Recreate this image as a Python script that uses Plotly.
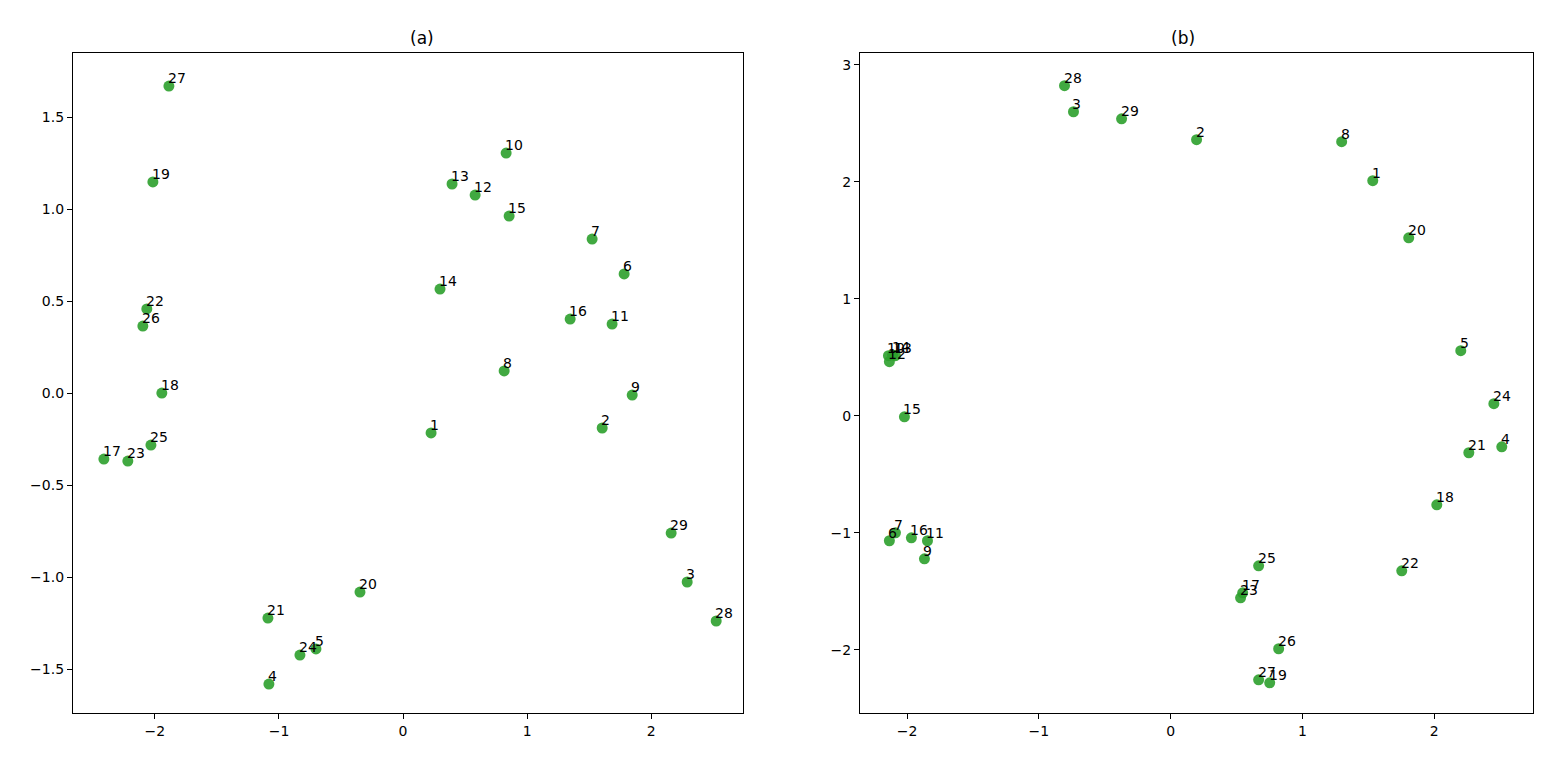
import plotly.graph_objects as go

# Panel (a) data
labels_a = [27, 19, 22, 26, 18, 25, 17, 23, 10, 13, 12, 15, 7, 6, 14, 16, 11, 8, 9, 2, 1, 29, 3, 28, 20, 21, 5, 24, 4]
x_a = [-1.887, -2.016, -2.065, -2.097, -1.944, -2.032, -2.411, -2.218, 0.831, 0.395, 0.581, 0.855, 1.524, 1.782,
       0.298, 1.347, 1.685, 0.815, 1.847, 1.605, 0.226, 2.161, 2.290, 2.524, -0.347, -1.089, -0.702, -0.831, -1.081]
y_a = [1.668, 1.147, 0.457, 0.364, 0.0, -0.283, -0.359, -0.370, 1.304, 1.136, 1.076, 0.962, 0.837, 0.647,
       0.565, 0.402, 0.375, 0.120, -0.011, -0.190, -0.217, -0.761, -1.027, -1.239, -1.082, -1.223, -1.391, -1.424, -1.582]

# Panel (b) data
labels_b = [28, 3, 29, 2, 8, 1, 20, 5, 24, 4, 21, 18, 22, 25, 17, 23, 26, 27, 19, 10, 14, 13, 12, 15, 7, 6, 16, 11, 9]
x_b = [-0.805, -0.737, -0.372, 0.197, 1.298, 1.534, 1.807, 2.202, 2.453, 2.513, 2.263, 2.020, 1.754, 0.668, 0.547,
       0.531, 0.820, 0.668, 0.752, -2.141, -2.110, -2.088, -2.134, -2.020, -2.088, -2.134, -1.967, -1.845, -1.868]
y_b = [2.821, 2.598, 2.538, 2.359, 2.342, 2.009, 1.521, 0.556, 0.103, -0.265, -0.316, -0.761, -1.325, -1.282, -1.513,
       -1.556, -1.991, -2.256, -2.282, 0.513, 0.520, 0.513, 0.462, -0.009, -1.000, -1.068, -1.043, -1.068, -1.222]

titles = ["(a)", "(b)"]
xticks_a = [-2, -1, 0, 1, 2]
yticks_a = [-1.5, -1.0, -0.5, 0.0, 0.5, 1.0, 1.5]
xticks_b = [-2, -1, 0, 1, 2]
yticks_b = [-2, -1, 0, 1, 2, 3]

FONT = "DejaVu Sans"
GREEN = "rgba(44,160,44,0.9)"

# page body has an 8px margin; size the figure to fit inside it
OFF = 8
W, H = 1548 - OFF, 763 - OFF

fig = go.Figure()
fig.add_trace(go.Scatter(x=x_a, y=y_a, mode="markers", xaxis="x", yaxis="y",
                         marker=dict(color=GREEN, size=11, line=dict(width=0)), showlegend=False,
                         hoverinfo="text", text=[str(l) for l in labels_a]))
fig.add_trace(go.Scatter(x=x_b, y=y_b, mode="markers", xaxis="x2", yaxis="y2",
                         marker=dict(color=GREEN, size=11, line=dict(width=0)), showlegend=False,
                         hoverinfo="text", text=[str(l) for l in labels_b]))

annotations = []
for lab, xx, yy in zip(labels_a, x_a, y_a):
    annotations.append(dict(x=xx, y=yy, xref="x", yref="y", text=str(lab), showarrow=False,
                            xanchor="left", yanchor="bottom", yshift=-2, xshift=-3,
                            font=dict(family=FONT, size=14, color="black")))
for lab, xx, yy in zip(labels_b, x_b, y_b):
    annotations.append(dict(x=xx, y=yy, xref="x2", yref="y2", text=str(lab), showarrow=False,
                            xanchor="left", yanchor="bottom", yshift=-2, xshift=-3,
                            font=dict(family=FONT, size=14, color="black")))

dom_a = [(73 - OFF) / W, (743 - OFF) / W]
dom_b = [(860 - OFF) / W, (1533 - OFF) / W]
ydom = [1 - (713 - OFF) / H, 1 - (53 - OFF) / H]

annotations.append(dict(x=(dom_a[0] + dom_a[1]) / 2, y=ydom[1], xref="paper", yref="paper", text=titles[0],
                        showarrow=False, yanchor="bottom", yshift=3, font=dict(family=FONT, size=17, color="black")))
annotations.append(dict(x=(dom_b[0] + dom_b[1]) / 2, y=ydom[1], xref="paper", yref="paper", text=titles[1],
                        showarrow=False, yanchor="bottom", yshift=3, font=dict(family=FONT, size=17, color="black")))

axis_common = dict(showgrid=False, zeroline=False, showline=True, linecolor="black", linewidth=1.2,
                   mirror=True, ticks="outside", ticklen=5, tickwidth=1, tickcolor="black",
                   tickfont=dict(family=FONT, size=14, color="black"))

fig.update_layout(
    width=W, height=H,
    margin=dict(l=0, r=0, t=0, b=0),
    paper_bgcolor="white", plot_bgcolor="white",
    xaxis=dict(domain=dom_a, range=[-2.66, 2.74], tickvals=xticks_a, anchor="y", **axis_common),
    yaxis=dict(domain=ydom, range=[-1.739, 1.848], tickvals=yticks_a, tickformat=".1f", anchor="x", **axis_common),
    xaxis2=dict(domain=dom_b, range=[-2.357, 2.75], tickvals=xticks_b, anchor="y2", **axis_common),
    yaxis2=dict(domain=ydom, range=[-2.54, 3.10], tickvals=yticks_b, anchor="x2", **axis_common),
    annotations=annotations,
)

fig.write_html("out.html")
